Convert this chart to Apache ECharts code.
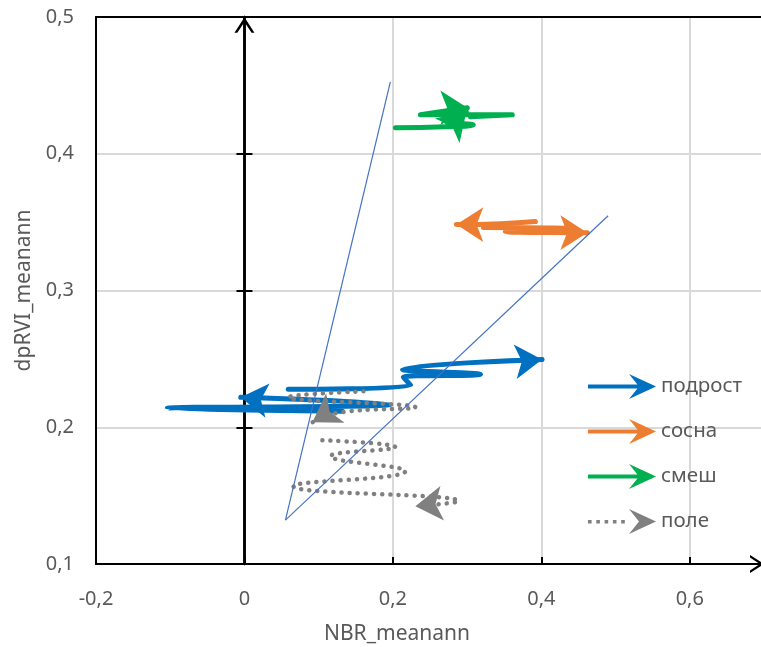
<!DOCTYPE html>
<html>
<head>
<meta charset="utf-8">
<title>NBR_meanann / dpRVI_meanann</title>
<script src="https://cdn.jsdelivr.net/npm/echarts@6/dist/echarts.min.js"></script>
<style>
    html, body { margin: 0; padding: 0; background: #fff; }
    #main { width: 761px; height: 647px; }
</style>
</head>
<body>
<div id="main"></div>
<script type="text/javascript">
    // [NBR_meanann, dpRVI_meanann], each class is drawn as two runs, an arrow at the end of each run
    var classNames = ['подрост', 'сосна', 'смеш', 'поле'];

    var podrostRun1 = [[0.059, 0.2277], [0.224, 0.2307], [0.214, 0.2365], [0.318, 0.2387], [0.213, 0.2423], [0.401, 0.2496]];
    var podrostRun2 = [[0.132, 0.2117], [-0.104, 0.2139], [0.197, 0.2168], [-0.005, 0.2219]];

    var sosnaRun1 = [[0.392, 0.3504], [0.345, 0.3489], [0.2855, 0.3482]];
    var sosnaRun2 = [[0.322, 0.3460], [0.435, 0.3453], [0.3515, 0.3431], [0.462, 0.3423]];

    var smeshRun1 = [[0.2034, 0.4190], [0.2707, 0.4197], [0.3084, 0.4212], [0.2707, 0.4241], [0.299, 0.4307]];
    var smeshRun2 = [[0.3044, 0.4270], [0.3609, 0.4285], [0.237, 0.4285], [0.3003, 0.4336]];

    var poleRun1 = [[0.1603, 0.2263], [0.0593, 0.2219], [0.2303, 0.2146], [0.1293, 0.2109], [0.0916, 0.2036]];
    var poleRun2 = [[0.105, 0.1905], [0.2034, 0.1854], [0.1158, 0.1788], [0.2168, 0.1679], [0.066, 0.1569], [0.2882, 0.146], [0.2303, 0.1423]];

    // two thin guide lines
    var guide1 = [[0.0552, 0.1321], [0.1966, 0.4526]];
    var guide2 = [[0.0552, 0.1321], [0.490, 0.3547]];

    var xTicks = { min: -0.2, max: 0.7, step: 0.2 };
    var yTicks = { min: 0.1, max: 0.5, step: 0.1 };

    var runs = {
        'подрост': [podrostRun1, podrostRun2],
        'сосна': [sosnaRun1, sosnaRun2],
        'смеш': [smeshRun1, smeshRun2],
        'поле': [poleRun1, poleRun2]
    };
    // arrow direction in degrees (0 = up, 90 = left, -90 = right)
    var arrowAngle = {
        'подрост': [-85, 83],
        'сосна': [90, -90],
        'смеш': [-45, -90],
        'поле': [122, 96]
    };
    var colors = {
        'подрост': '#0070C0',
        'сосна': '#ED7D31',
        'смеш': '#00B050',
        'поле': '#808080'
    };

    var font = '"Noto Sans", "Open Sans", sans-serif';
    var textGray = '#595959';
    var chevron = 'path://M0,14L9,0L18,14L15.4,14L9,4.2L2.6,14Z';
    var arrowIcon = 'path://M0,10.5L51,10.5L51,14.5L0,14.5Z M41,0L68,12.5L41,25L51,12.5Z';
    var dotIcon = 'path://M0,11h3.6v3.6h-3.6Z M8.3,11h3.6v3.6h-3.6Z M16.6,11h3.6v3.6h-3.6Z M24.9,11h3.6v3.6h-3.6Z M33.2,11h3.6v3.6h-3.6Z M41,0L68,12.5L41,25L51,12.5Z';

    function fmt(v) {
        if (Math.abs(v) < 1e-9) return '0';
        return v.toFixed(1).replace('.', ',');
    }

    // the arrow symbol has its tip on the point and turns round it
    function withArrow(points, angle) {
        return points.map(function (p, i) {
            if (i < points.length - 1) return p;
            return {
                value: p,
                symbol: 'arrow',
                symbolSize: [26, 27],
                symbolRotate: angle
            };
        });
    }

    var series = [];
    classNames.forEach(function (name) {
        runs[name].forEach(function (run, k) {
            var dotted = name === 'поле';
            series.push({
                name: name,
                type: 'line',
                data: withArrow(run, arrowAngle[name][k]),
                smooth: 0.5,
                symbol: 'none',
                showSymbol: true,
                clip: false,
                lineStyle: {
                    color: colors[name],
                    width: dotted ? 4.5 : 5,
                    cap: 'round',
                    join: 'round',
                    type: dotted ? [0.1, 8] : 'solid'
                },
                itemStyle: { color: colors[name], borderWidth: 0 },
                emphasis: { disabled: true },
                z: 3
            });
        });
    });
    [guide1, guide2].forEach(function (g) {
        series.push({
            type: 'line',
            data: g,
            symbol: 'none',
            lineStyle: { color: '#4472C4', width: 1.2 },
            emphasis: { disabled: true },
            z: 4
        });
    });

    var chart = echarts.init(document.getElementById('main'), null, { renderer: 'canvas' });
    chart.setOption({
        animation: false,
        backgroundColor: '#fff',
        grid: { left: 96, right: -3, top: 17, bottom: 83, containLabel: false, outerBoundsMode: 'none' },
        legend: {
            orient: 'vertical',
            left: 583,
            top: 369,
            itemWidth: 68,
            itemHeight: 25,
            itemGap: 20,
            selectedMode: false,
            itemStyle: { borderWidth: 0 },
            textStyle: { color: textGray, fontSize: 20.5, fontFamily: font },
            data: classNames.map(function (n) {
                return { name: n, icon: n === 'поле' ? dotIcon : arrowIcon };
            })
        },
        xAxis: [{
            type: 'value',
            min: xTicks.min,
            max: xTicks.max,
            interval: xTicks.step,
            position: 'bottom',
            axisLine: {
                onZero: false,
                lineStyle: { color: '#000', width: 2 },
                symbol: ['none', chevron],
                symbolSize: [18, 14],
                symbolOffset: [0, -7]
            },
            axisTick: { show: true, inside: true, length: 7, lineStyle: { color: '#000', width: 2 } },
            axisLabel: {
                margin: 25,
                color: textGray,
                fontSize: 20,
                fontFamily: font,
                formatter: function (v) {
                    return Math.abs(v - xTicks.max) < 1e-9 ? '' : fmt(v);
                }
            },
            splitLine: { show: true, lineStyle: { color: '#d9d9d9', width: 2 } },
            name: 'NBR_meanann',
            nameLocation: 'middle',
            nameGap: 60,
            nameTextStyle: { color: textGray, fontSize: 21, fontFamily: font, padding: [0, 66, 0, 0] }
        }, {
            type: 'value',
            min: xTicks.min,
            max: xTicks.max,
            position: 'top',
            axisLine: { show: true, onZero: false, lineStyle: { color: '#000', width: 2 } },
            axisTick: { show: false },
            axisLabel: { show: false },
            splitLine: { show: false }
        }],
        yAxis: [{
            type: 'value',
            min: yTicks.min,
            max: yTicks.max,
            interval: yTicks.step,
            position: 'left',
            axisLine: { show: true, onZero: false, lineStyle: { color: '#000', width: 2 } },
            axisTick: { show: false },
            axisLabel: { margin: 22, color: textGray, fontSize: 20, fontFamily: font, formatter: fmt },
            splitLine: { show: true, lineStyle: { color: '#d9d9d9', width: 2 } },
            name: 'dpRVI_meanann',
            nameLocation: 'middle',
            nameGap: 47,
            nameTextStyle: { color: textGray, fontSize: 21, fontFamily: font }
        }, {
            type: 'value',
            min: yTicks.min,
            max: yTicks.max,
            interval: yTicks.step,
            position: 'left',
            axisLine: {
                show: true,
                onZero: true,
                onZeroAxisIndex: 0,
                lineStyle: { color: '#000', width: 2.5 },
                symbol: ['none', chevron],
                symbolSize: [20, 16],
                symbolOffset: [0, -8]
            },
            axisTick: { show: true, length: 8, lineStyle: { color: '#000', width: 2 } },
            axisLabel: { show: false },
            splitLine: { show: false }
        }, {
            type: 'value',
            min: yTicks.min,
            max: yTicks.max,
            interval: yTicks.step,
            position: 'left',
            axisLine: { show: true, onZero: true, onZeroAxisIndex: 0, lineStyle: { color: '#000', width: 2.5 } },
            axisTick: { show: true, inside: true, length: 8, lineStyle: { color: '#000', width: 2 } },
            axisLabel: { show: false },
            splitLine: { show: false }
        }],
        series: series
    });
</script>
</body>
</html>
